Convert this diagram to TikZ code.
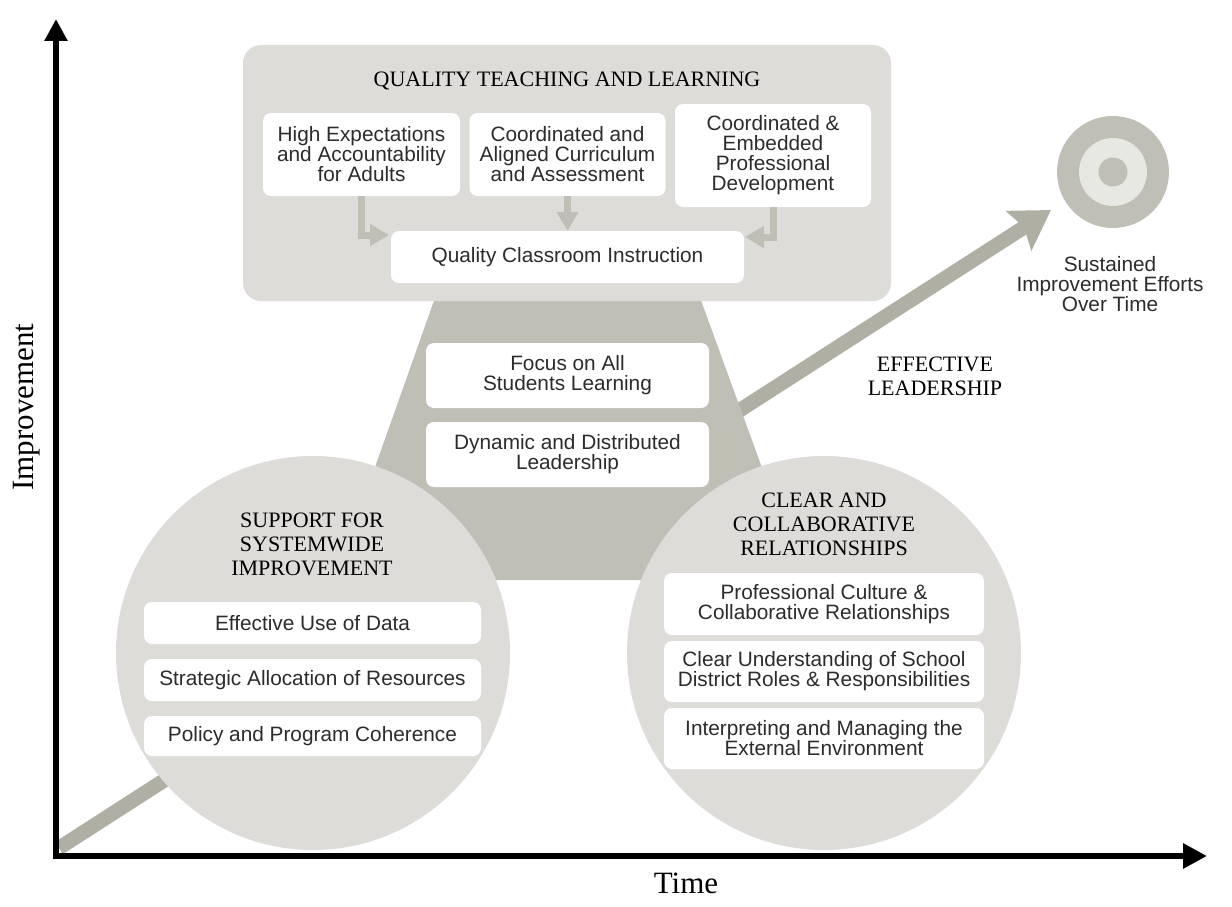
\documentclass[tikz,border=0pt]{standalone}
\usepackage{xcolor}
\usepackage{fontspec}
\setmainfont{Liberation Serif}
\setsansfont{Liberation Sans}
\usetikzlibrary{arrows.meta}
\definecolor{panelgray}{HTML}{DEDCD8}
\definecolor{trunkgray}{HTML}{C0BFB6}
\definecolor{trendgray}{HTML}{B0AFA4}
\definecolor{ringlight}{HTML}{E8E8E3}
\definecolor{inkgray}{HTML}{2C2C2C}
\tikzset{
  whitebox/.style={fill=white, rounded corners=8pt, inner sep=0pt, align=center, text=inkgray,
    font=\sffamily\fontsize{20.8}{20}\selectfont},
  heading/.style={align=center, text=black, inner sep=0pt, font=\rmfamily\fontsize{22}{24}\selectfont},
  axislabel/.style={text=black, inner sep=0pt, font=\rmfamily\fontsize{31}{34}\selectfont},
  feed/.style={draw=trunkgray, line width=7pt, -{Triangle[length=19pt,width=21pt]}},
  axisline/.style={draw=black, line width=6.5pt, {Triangle[length=22pt,width=22pt]}-{Triangle[length=24pt,width=24pt]}}
}
\begin{document}
\begin{tikzpicture}[x=1pt,y=-1pt]
\useasboundingbox (0,0) rectangle (1232,907);

\coordinate (origin) at (56,856);
\coordinate (ytip) at (56,19);
\coordinate (xtip) at (1207,856);
\coordinate (trendstart) at (59,848);
\coordinate (trendend) at (1051,210);

\begin{scope}
\clip (59,0) rectangle (1232,853);
\draw[draw=trendgray, line width=14.5pt, -{Stealth[length=38pt,width=46pt,inset=6pt]}] (trendstart) -- (trendend);
\end{scope}

\fill[trunkgray] (436,295) -- (699,295) -- (803,580) -- (335,580) -- cycle;

\node (topbox) [fill=panelgray, rounded corners=18pt, minimum width=648pt, minimum height=256pt, inner sep=0pt] at (567,173) {};
\node (lefthub) [circle, fill=panelgray, minimum size=394pt, inner sep=0pt] at (313,653) {};
\node (righthub) [circle, fill=panelgray, minimum size=394pt, inner sep=0pt] at (824,653) {};

\node (toptitle) [heading] at (567,81) {QUALITY TEACHING AND LEARNING};
\node (expect) [whitebox, minimum width=197pt, minimum height=83pt] at (361.5,154.5) {High Expectations\\and Accountability\\for Adults};
\node (aligned) [whitebox, minimum width=196pt, minimum height=83pt] at (567.5,154.5) {Coordinated and\\Aligned Curriculum\\and Assessment};
\node (embedded) [whitebox, minimum width=196pt, minimum height=103pt] at (773,155.5) {Coordinated \&\\Embedded\\Professional\\Development};
\node (classroom) [whitebox, minimum width=353pt, minimum height=52pt] at (567.5,257) {Quality Classroom Instruction};

\coordinate (entryleft) at (389,235);
\coordinate (entryright) at (745,237);
\draw[feed] (expect.south) |- (entryleft);
\draw[feed] (aligned.south) -- (aligned.south |- classroom.north);
\draw[feed] (embedded.south) |- (entryright);

\node (focus) [whitebox, minimum width=283pt, minimum height=65pt] at (567.5,375.5) {Focus on All\\Students Learning};
\node (dynamic) [whitebox, minimum width=283pt, minimum height=65pt] at (567.5,454.5) {Dynamic and Distributed\\Leadership};

\node (lefttitle) [heading] at (312,544) {SUPPORT FOR\\SYSTEMWIDE\\IMPROVEMENT};
\node (data) [whitebox, minimum width=337pt, minimum height=42pt] at (312.5,623) {Effective Use of Data};
\node (resources) [whitebox, minimum width=337pt, minimum height=42pt] at (312.5,680) {Strategic Allocation of Resources};
\node (policy) [whitebox, minimum width=337pt, minimum height=40pt] at (312.5,736) {Policy and Program Coherence};

\node (righttitle) [heading] at (824,524) {CLEAR AND\\COLLABORATIVE\\RELATIONSHIPS};
\node (culture) [whitebox, minimum width=320pt, minimum height=62pt] at (824,604) {Professional Culture \&\\Collaborative Relationships};
\node (roles) [whitebox, minimum width=320pt, minimum height=61pt] at (824,671.5) {Clear Understanding of School\\District Roles \& Responsibilities};
\node (external) [whitebox, minimum width=320pt, minimum height=61pt] at (824,738.5) {Interpreting and Managing the\\External Environment};

\node (goalouter) [circle, fill=trunkgray, minimum size=112pt, inner sep=0pt] at (1113,172) {};
\node (goalmiddle) [circle, fill=ringlight, minimum size=68pt, inner sep=0pt] at (goalouter.center) {};
\node (goalinner) [circle, fill=trunkgray, minimum size=29pt, inner sep=0pt] at (goalouter.center) {};
\node (goaltext) [align=center, text=inkgray, inner sep=0pt, font=\sffamily\fontsize{20.8}{20}\selectfont] at (1110,284) {Sustained\\Improvement Efforts\\Over Time};

\node (trendtext) [heading] at (935,376) {EFFECTIVE\\LEADERSHIP};

\draw[axisline] (ytip) -- (origin) -- (xtip);
\node (improvement) [axislabel, rotate=90] at (27,407) {Improvement};
\node (timelabel) [axislabel] at (686,883) {Time};
\end{tikzpicture}
\end{document}
